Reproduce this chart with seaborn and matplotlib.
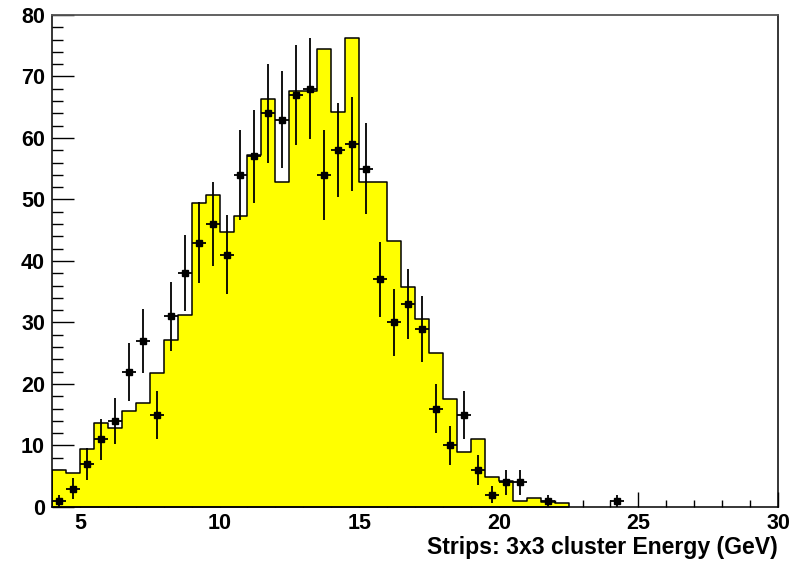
import numpy as np
import pandas as pd
import matplotlib
matplotlib.use("Agg")
import matplotlib.pyplot as plt
import seaborn as sns
from matplotlib.ticker import MultipleLocator

# Simulated distribution: bin left edges (GeV, 0.5 GeV wide) and contents
mc_left = [4.0, 4.5, 5.0, 5.5, 6.0, 6.5, 7.0, 7.5, 8.0, 8.5,
           9.0, 9.5, 10.0, 10.5, 11.0, 11.5, 12.0, 12.5, 13.0, 13.5,
           14.0, 14.5, 15.0, 15.5, 16.0, 16.5, 17.0, 17.5, 18.0, 18.5,
           19.0, 19.5, 20.0, 20.5, 21.0, 21.5, 22.0]
mc_counts = [6.0, 5.5, 9.5, 13.6, 12.9, 15.6, 16.9, 21.8, 27.1, 31.2,
             49.5, 50.7, 44.7, 47.3, 57.3, 66.3, 52.8, 67.6, 67.6, 74.4,
             64.2, 76.2, 52.8, 52.8, 43.2, 35.8, 30.5, 25.1, 17.6, 8.9,
             11.0, 4.9, 4.2, 0.9, 1.5, 0.8, 0.7]

# Measured data: bin centres and event counts
data_x = [4.25, 4.75, 5.25, 5.75, 6.25, 6.75, 7.25, 7.75, 8.25, 8.75,
          9.25, 9.75, 10.25, 10.75, 11.25, 11.75, 12.25, 12.75, 13.25, 13.75,
          14.25, 14.75, 15.25, 15.75, 16.25, 16.75, 17.25, 17.75, 18.25, 18.75,
          19.25, 19.75, 20.25, 20.75, 21.75, 24.25]
data_n = [1, 3, 7, 11, 14, 22, 27, 15, 31, 38,
          43, 46, 41, 54, 57, 64, 63, 67, 68, 54,
          58, 59, 55, 37, 30, 33, 29, 16, 10, 15,
          6, 2, 4, 4, 1, 1]

bin_width = 0.5
x_label = "Strips: 3x3 cluster Energy (GeV)"

sns.set_theme(style="ticks")
plt.rcParams["font.family"] = ["Liberation Sans", "DejaVu Sans"]
plt.rcParams["font.weight"] = "bold"
plt.rcParams["text.color"] = "black"
plt.rcParams["axes.labelcolor"] = "black"
plt.rcParams["xtick.color"] = "black"
plt.rcParams["ytick.color"] = "black"

fig = plt.figure(figsize=(8.0, 5.63), dpi=100)
ax = fig.add_axes([0.065, 0.0995, 0.9075, 0.8739])

mc = pd.DataFrame({"x": [v + bin_width / 2 for v in mc_left], "w": mc_counts})
edges = [float(v) for v in mc_left] + [mc_left[-1] + bin_width]
sns.histplot(data=mc, x="x", weights="w", bins=edges, element="step",
             fill=True, color="#ffff00", alpha=1.0, edgecolor="black",
             linewidth=1.1, ax=ax)

ax.errorbar(data_x, data_n, xerr=bin_width / 2, yerr=np.sqrt(data_n),
            fmt="s", color="black", markersize=5, elinewidth=1.3,
            capsize=0, zorder=5)

ax.set_xlim(4, 30)
ax.set_ylim(0, 80)
ax.xaxis.set_major_locator(MultipleLocator(5))
ax.xaxis.set_minor_locator(MultipleLocator(1))
ax.yaxis.set_major_locator(MultipleLocator(10))
ax.yaxis.set_minor_locator(MultipleLocator(2))

ax.tick_params(axis="x", which="major", direction="in", length=10.5, width=1.0,
               labelsize=15.5, pad=4, top=False, colors="black")
ax.tick_params(axis="x", which="minor", direction="in", length=5.2, width=1.0,
               top=False, colors="black")
ax.tick_params(axis="y", which="major", direction="in", length=16, width=1.0,
               labelsize=15.5, pad=5, right=False, colors="black")
ax.tick_params(axis="y", which="minor", direction="in", length=8, width=1.0,
               right=False, colors="black")
for lbl in ax.get_xticklabels() + ax.get_yticklabels():
    lbl.set_fontweight("bold")

for side in ["left", "bottom", "right"]:
    ax.spines[side].set_visible(True)
    ax.spines[side].set_color("black")
    ax.spines[side].set_linewidth(1.1)
ax.spines["top"].set_visible(True)
ax.spines["top"].set_color("#555555")
ax.spines["top"].set_linewidth(1.3)

ax.set_ylabel("")
ax.set_xlabel(x_label, loc="right", fontsize=16.6, fontweight="bold",
              labelpad=2, color="black")

fig.savefig("out.png", dpi=100, facecolor="white")
